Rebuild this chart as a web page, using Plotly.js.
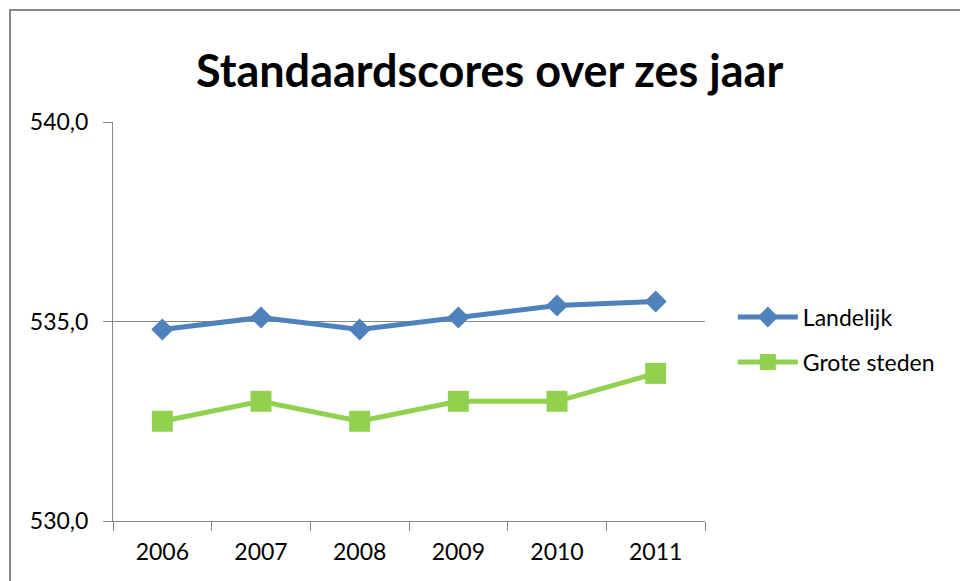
<!DOCTYPE html>
<html>
<head>
<meta charset="utf-8">
<script src="https://cdn.plot.ly/plotly-3.0.1.min.js"></script>
<style>
html,body{margin:0;padding:0;background:#fff;overflow:hidden;}
#wrap{position:relative;width:960px;height:581px;}
#chart{position:absolute;left:0;top:0;width:960px;height:581px;}
#frame{position:absolute;left:9px;top:9px;width:1000px;height:1000px;border:2px solid #898989;pointer-events:none;}
</style>
</head>
<body>
<div id="wrap"><div id="chart"></div><div id="frame"></div></div>
<script>
var years = ['2006','2007','2008','2009','2010','2011'];
var landelijk = [534.8, 535.1, 534.8, 535.1, 535.4, 535.5];
var groteSteden = [532.5, 533.0, 532.5, 533.0, 533.0, 533.7];
var seriesNames = ['Landelijk', 'Grote steden'];
var yTicks = [530, 535, 540];

var FONT = 'Lato, "Open Sans", sans-serif';

var traces = [
  {x: years, y: landelijk, name: seriesNames[0], type: 'scatter', mode: 'lines+markers',
   legendgroup: 'a',
   line: {color: '#4F81BD', width: 5},
   marker: {symbol: 'diamond', size: 17, color: '#4F81BD'}},
  {x: years, y: groteSteden, name: seriesNames[1], type: 'scatter', mode: 'lines+markers',
   legendgroup: 'b',
   line: {color: '#92D050', width: 5},
   marker: {symbol: 'square', size: 21, color: '#92D050'}}
];

var layout = {
  width: 960, height: 581,
  margin: {l: 113, r: 255, t: 122, b: 60, pad: 0},
  paper_bgcolor: 'rgba(0,0,0,0)', plot_bgcolor: 'rgba(0,0,0,0)',
  separators: ', ',
  title: {text: '<b>Standaardscores over zes jaar</b>', x: 0.51, xanchor: 'center', y: 0.877, yanchor: 'middle',
          font: {family: FONT, size: 45, color: '#000'}},
  showlegend: true,
  legend: {x: 1.047, xanchor: 'left', y: 0.565, yanchor: 'top', tracegroupgap: 12, itemwidth: 60,
           font: {family: FONT, size: 23, color: '#000'}, bgcolor: 'rgba(0,0,0,0)'},
  xaxis: {type: 'category', range: [-0.5, 5.5], showline: true, linecolor: '#868686', linewidth: 1,
          ticks: 'outside', tickson: 'boundaries', ticklen: 9, tickcolor: '#868686',
          ticklabelstandoff: 10,
          showgrid: false, zeroline: false,
          tickfont: {family: FONT, size: 23, color: '#000'}},
  yaxis: {range: [530, 540], tickvals: yTicks, tickformat: '.1f', showline: true, linecolor: '#868686', linewidth: 1,
          ticks: 'outside', ticklen: 9, tickcolor: '#868686',
          ticklabelstandoff: 10,
          showgrid: true, gridcolor: '#868686', gridwidth: 1, zeroline: false,
          tickfont: {family: FONT, size: 23, color: '#000'}}
};

Plotly.newPlot('chart', traces, layout, {displayModeBar: false, staticPlot: true});
</script>
</body>
</html>
